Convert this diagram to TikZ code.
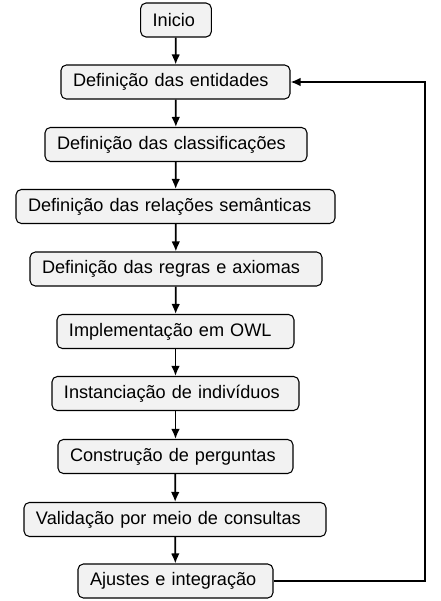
\documentclass[tikz,border=0pt]{standalone}
\usepackage{fontspec}
\setmainfont{Liberation Sans}
\usetikzlibrary{arrows.meta}
\definecolor{boxgray}{HTML}{F2F2F2}
\begin{document}
\begin{tikzpicture}[>={Latex[length=7.5pt,width=6.5pt]}, x=.75pt, y=-.75pt,
  etapa/.style={draw, line width=.8pt, rounded corners=4pt, fill=boxgray,
    minimum height=25.5pt, inner xsep=9pt, align=left, font=\fontsize{13.6}{15}\selectfont},
  seta/.style={->, line width=1.3pt}]
\useasboundingbox (0,0) rectangle (441,601);
\node[etapa, text width=35pt] (inicio) at (176,20) {Inicio};
\node[etapa, text width=153.75pt] (entidades) at (175.5,82) {Definição das entidades};
\node[etapa, text width=178.5pt] (classif) at (176,144.5) {Definição das classificações};
\node[etapa, text width=221.25pt] (relacoes) at (175.5,206.5) {Definição das relações semânticas};
\node[etapa, text width=201pt] (regras) at (176,269) {Definição das regras e axiomas};
\node[etapa, text width=159.75pt] (owl) at (175.5,331.5) {Implementação em OWL};
\node[etapa, text width=167.25pt] (individuos) at (175.5,393.5) {Instanciação de indivíduos};
\node[etapa, text width=158.25pt] (perguntas) at (175.5,456.5) {Construção de perguntas};
\node[etapa, text width=208.5pt] (consultas) at (175,519.5) {Validação por meio de consultas};
\node[etapa, text width=128.25pt] (ajustes) at (175.5,581) {Ajustes e integração};
\draw[seta] (inicio)--(entidades);
\draw[seta] (entidades)--(classif);
\draw[seta] (classif)--(relacoes);
\draw[seta] (relacoes)--(regras);
\draw[seta] (regras)--(owl);
\draw[seta] (owl)--(individuos);
\draw[seta] (individuos)--(perguntas);
\draw[seta] (perguntas)--(consultas);
\draw[seta] (consultas)--(ajustes);
\coordinate (canto1) at (425,581);
\coordinate (canto2) at (425,82);
\draw[seta] (ajustes.east)--(canto1)--(canto2)--(entidades.east);
\end{tikzpicture}
\end{document}
